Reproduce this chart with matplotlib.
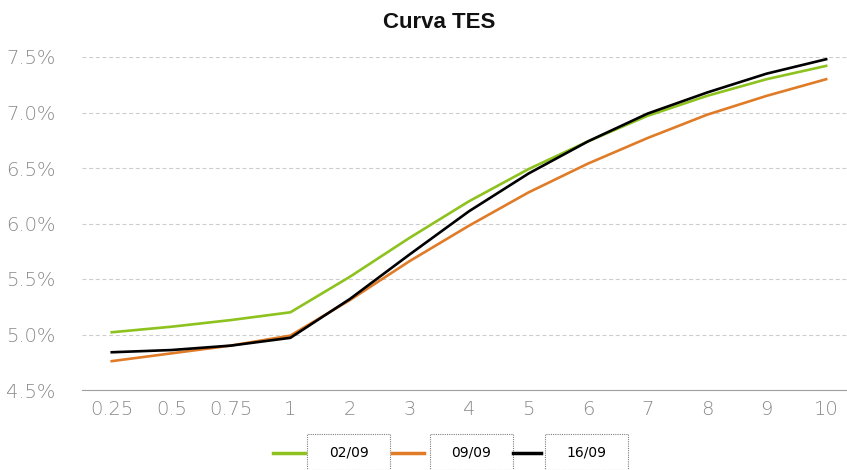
import matplotlib.pyplot as plt
from matplotlib.lines import Line2D
from matplotlib.ticker import FuncFormatter

tenors = ['0.25', '0.5', '0.75', '1', '2', '3', '4', '5', '6', '7', '8', '9', '10']
series_names = ['02/09', '09/09', '16/09']
curve_0209 = [5.02, 5.07, 5.13, 5.20, 5.52, 5.87, 6.20, 6.49, 6.74, 6.97, 7.15, 7.30, 7.42]
curve_0909 = [4.76, 4.83, 4.90, 4.99, 5.31, 5.66, 5.98, 6.28, 6.54, 6.77, 6.98, 7.15, 7.30]
curve_1609 = [4.84, 4.86, 4.90, 4.97, 5.32, 5.72, 6.11, 6.45, 6.74, 6.99, 7.18, 7.35, 7.48]
colors = ['#8dc21f', '#e07b28', '#000000']

W, H = 847, 470
fig = plt.figure(figsize=(W / 100, H / 100), dpi=100)
ax = fig.add_axes([82 / W, 1 - 390 / H, (W - 82) / W, (390 - 57) / H])

x = list(range(len(tenors)))
for vals, c in zip([curve_0209, curve_0909, curve_1609], colors):
    ax.plot(x, vals, color=c, lw=1.9, solid_joinstyle='round')

ax.set_xlim(-0.5, 12.35)
ax.set_ylim(4.5, 7.5)
ax.set_yticks([4.5, 5.0, 5.5, 6.0, 6.5, 7.0, 7.5])
ax.yaxis.set_major_formatter(FuncFormatter(lambda v, p: f'{v:.1f}%'))
ax.set_xticks(x)
ax.set_xticklabels(tenors)
ax.grid(axis='y', color='#cccccc', ls=(0, (3.5, 2.5)), lw=0.8)
ax.set_axisbelow(True)
for s in ['left', 'right', 'top']:
    ax.spines[s].set_visible(False)
ax.spines['bottom'].set_color('#a0a0a0')
ax.tick_params(length=0, labelsize=14, labelcolor='#8a8a8a', pad=7)
ax.tick_params(axis='y', pad=19)
for lab in ax.get_xticklabels() + ax.get_yticklabels():
    lab.set_fontweight('light')

fig.text(439 / W, 1 - 22 / H, 'Curva TES', ha='center', va='center',
         fontsize=16, fontweight='bold', family='Liberation Sans', color='#111111')

# boxed legend at the bottom
legend_lines = [(273, 305), (392, 424), (513, 541)]
legend_boxes = [307, 430, 545]
for name, c, (x0, x1), bx in zip(series_names, colors, legend_lines, legend_boxes):
    fig.add_artist(Line2D([x0 / W, x1 / W], [1 - 453 / H] * 2, color=c, lw=2.5,
                          transform=fig.transFigure))
    fig.add_artist(plt.Rectangle((bx / W, 0), 83 / W, (470 - 434) / H,
                                 transform=fig.transFigure, fill=False,
                                 ec='#808080', lw=0.8, ls=(0, (1, 1))))
    fig.text((bx + 41.5) / W, 1 - 453 / H, name, ha='center', va='center',
             fontsize=10)

fig.savefig('out.png', dpi=100)
